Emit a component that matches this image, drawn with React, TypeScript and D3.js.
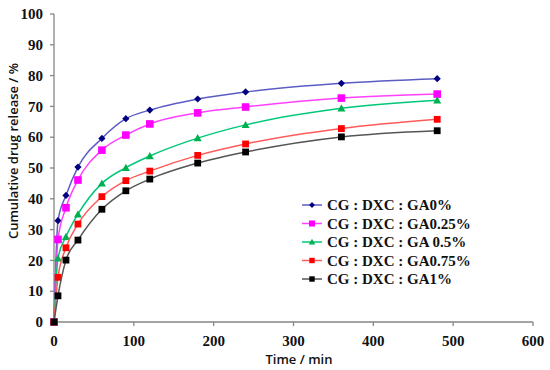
import React from 'react';
import * as d3 from 'd3';

// sampling times (min)
const times = [0, 5, 15, 30, 60, 90, 120, 180, 240, 360, 480];

const ga0 = [0, 32.9, 41.1, 50.3, 59.6, 66.0, 68.8, 72.4, 74.7, 77.5, 79.0];
const ga025 = [0, 26.8, 37.1, 46.1, 55.8, 60.7, 64.3, 67.9, 69.8, 72.7, 74.0];
const ga05 = [0, 20.7, 27.7, 35.0, 45.0, 50.1, 53.9, 59.7, 64.0, 69.4, 72.0];
const ga075 = [0, 14.5, 24.1, 31.8, 40.7, 45.9, 49.0, 54.1, 57.8, 62.8, 65.8];
const ga1 = [0, 8.5, 20.1, 26.6, 36.6, 42.6, 46.4, 51.6, 55.2, 60.1, 62.1];

const seriesNames = [
  'CG : DXC : GA0%',
  'CG : DXC : GA0.25%',
  'CG : DXC : GA 0.5%',
  'CG : DXC : GA0.75%',
  'CG : DXC : GA1%',
];

const xTicks = [0, 100, 200, 300, 400, 500, 600];
const yTicks = [0, 10, 20, 30, 40, 50, 60, 70, 80, 90, 100];

const W = 550;
const H = 370;

const styles = [
  { line: '#5c5cc4', fill: '#000080', shape: 'diamond', size: 3.6 },
  { line: '#ff40ff', fill: '#ff00ff', shape: 'square', size: 3.8 },
  { line: '#00c878', fill: '#00b050', shape: 'triangle', size: 4 },
  { line: '#ff5a5a', fill: '#ff0000', shape: 'square', size: 3.4 },
  { line: '#555555', fill: '#000000', shape: 'square', size: 3.4 },
];

const Marker = ({ x, y, st }) => {
  const s = st.size;
  if (st.shape === 'diamond') {
    return <path d={`M${x},${y - s}L${x + s},${y}L${x},${y + s}L${x - s},${y}Z`} fill={st.fill} />;
  }
  if (st.shape === 'triangle') {
    return <path d={`M${x},${y - s}L${x + s},${y + s * 0.8}L${x - s},${y + s * 0.8}Z`} fill={st.fill} />;
  }
  return <rect x={x - s} y={y - s} width={s * 2} height={s * 2} fill={st.fill} />;
};

const App = () => {
  const x = d3.scaleLinear().domain([0, 600]).range([54, 533]);
  const y = d3.scaleLinear().domain([0, 100]).range([322, 14]);

  const data = [ga0, ga025, ga05, ga075, ga1];

  const line = d3
    .line<number>()
    .x((d, i) => x(times[i]))
    .y((d) => y(d))
    .curve(d3.curveMonotoneX);

  const tickFont = { fontFamily: '"Liberation Serif", serif', fontWeight: 'bold', fontSize: 15, fill: '#111' };
  const titleFont = { fontFamily: '"Open Sans", sans-serif', fontWeight: 600, fontSize: 13, fill: '#111' };

  const legendX = 302;
  const legendY = 205;
  const legendGap = 18.5;

  return (
    <svg width={W} height={H} style={{ position: 'absolute', left: 0, top: 0, background: '#fff' }}>
      {/* axes */}
      <g stroke="#868686" strokeWidth={1.3} fill="none">
        <line x1={x(0)} x2={x(0)} y1={y(0)} y2={y(100)} />
        <line x1={x(0)} x2={x(600)} y1={y(0)} y2={y(0)} />
        {yTicks.map((t) => (
          <line key={'yt' + t} x1={x(0) - 4} x2={x(0)} y1={y(t)} y2={y(t)} />
        ))}
        {xTicks.map((t) => (
          <line key={'xt' + t} x1={x(t)} x2={x(t)} y1={y(0)} y2={y(0) + 4} />
        ))}
      </g>
      {yTicks.map((t) => (
        <text key={'yl' + t} x={x(0) - 11} y={y(t)} dy="0.35em" textAnchor="end" style={tickFont}>
          {t}
        </text>
      ))}
      {xTicks.map((t) => (
        <text key={'xl' + t} x={x(t)} y={y(0) + 18.5} dy="0.35em" textAnchor="middle" style={tickFont}>
          {t}
        </text>
      ))}
      <text x={299} y={359} dy="0.35em" textAnchor="middle" style={titleFont}>
        Time / min
      </text>
      <text
        transform={`translate(13,${151}) rotate(-90)`}
        dy="0.35em"
        textAnchor="middle"
        style={titleFont}
      >
        Cumulative drug release / %
      </text>

      {/* series */}
      {data.map((vals, si) => (
        <g key={'s' + si}>
          <path d={line(vals)} fill="none" stroke={styles[si].line} strokeWidth={1.5} />
          {vals.map((v, i) => (
            <Marker key={i} x={x(times[i])} y={y(v)} st={styles[si]} />
          ))}
        </g>
      ))}

      {/* legend */}
      {seriesNames.map((name, i) => {
        const ly = legendY + i * legendGap;
        return (
          <g key={'lg' + i}>
            <line x1={legendX} x2={legendX + 20} y1={ly} y2={ly} stroke={styles[i].line} strokeWidth={1.5} />
            <Marker x={legendX + 10} y={ly} st={{ ...styles[i], size: styles[i].size * 0.8 }} />
            <text x={legendX + 25} y={ly} dy="0.35em" style={{ ...tickFont, fontSize: 15, fill: '#111' }}>
              {name}
            </text>
          </g>
        );
      })}
    </svg>
  );
};

export default App;
